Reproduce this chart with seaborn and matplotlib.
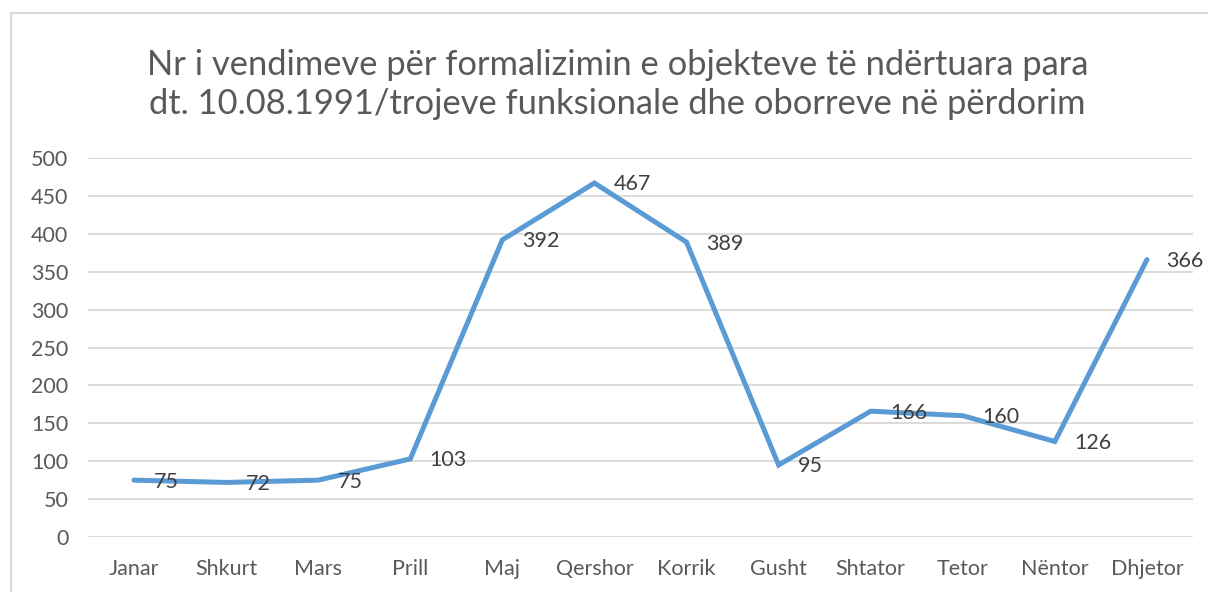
import matplotlib
matplotlib.use('Agg')
import matplotlib.pyplot as plt
import seaborn as sns
import pandas as pd
from matplotlib.patches import Rectangle

# data
months = ['Janar', 'Shkurt', 'Mars', 'Prill', 'Maj', 'Qershor', 'Korrik',
          'Gusht', 'Shtator', 'Tetor', 'Nëntor', 'Dhjetor']
vendime = [75, 72, 75, 103, 392, 467, 389, 95, 166, 160, 126, 366]
y_ticks = [0, 50, 100, 150, 200, 250, 300, 350, 400, 450, 500]
title = ('Nr i vendimeve për formalizimin e objekteve të ndërtuara para\n'
         'dt. 10.08.1991/trojeve funksionale dhe oborreve në përdorim')

sns.set_theme(style='white')
plt.rcParams['font.family'] = ['Lato', 'DejaVu Sans']

df = pd.DataFrame({'muaji': months, 'vendime': vendime})

fig = plt.figure(figsize=(12.08, 5.92), dpi=100)
ax = fig.add_axes([0.0728, 0.0929, 0.9148, 0.6402])

# chart frame like the excel export
fig.patches.append(Rectangle((11 / 1208, -0.05), 1.1, 1 - 13 / 592 + 0.05,
                             transform=fig.transFigure, fill=False,
                             edgecolor='#D9D9D9', linewidth=1.5))

sns.lineplot(data=df, x='muaji', y='vendime', ax=ax, sort=False,
             color='#5B9BD5', linewidth=3.6, solid_joinstyle='miter')

for i, v in enumerate(vendime):
    ax.annotate(str(v), (i, v), xytext=(14, -1), textcoords='offset points',
                ha='left', va='center', fontsize=15.5, color='#404040')

ax.set_xlim(-0.5, len(months) - 0.5)
ax.set_ylim(0, 500)
ax.set_yticks(y_ticks)
ax.yaxis.grid(True, color='#D9D9D9', linewidth=1.3)
ax.set_axisbelow(True)
for s in ax.spines.values():
    s.set_visible(False)
ax.tick_params(axis='both', colors='#595959', labelsize=15.5, length=0)
ax.tick_params(axis='x', pad=16)
ax.tick_params(axis='y', pad=14)
ax.set_xlabel('')
ax.set_ylabel('')

fig.text(0.511, 0.857, title, ha='center', va='center', fontsize=24.8,
         color='#595959', linespacing=1.28)

fig.savefig('out.png', dpi=100)
